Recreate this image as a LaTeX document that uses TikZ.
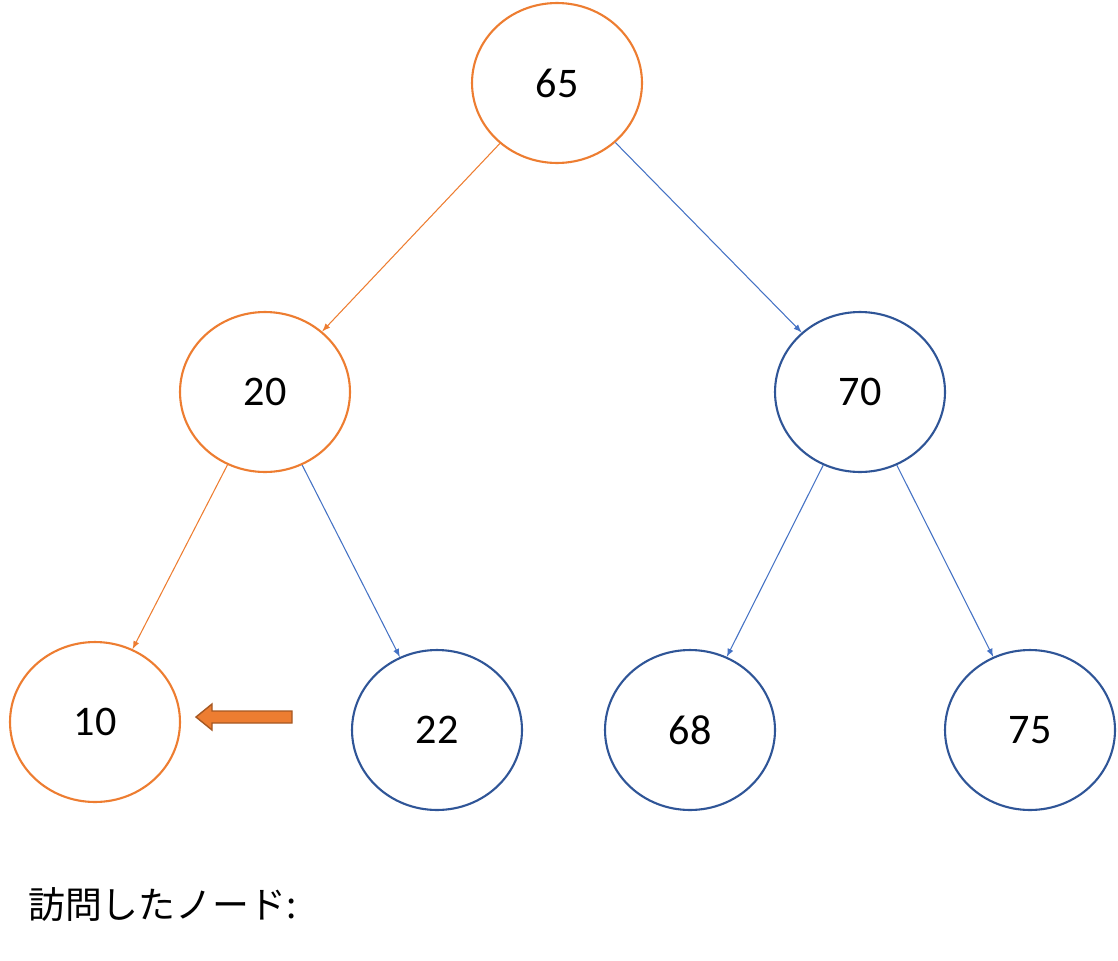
\documentclass[tikz,border=0pt]{standalone}
\usepackage{fontspec}
\setmainfont{Carlito}
\newfontfamily\cjk{Noto Sans CJK JP}
\usetikzlibrary{shapes.geometric}
\definecolor{myorange}{HTML}{ED7D31}
\definecolor{mynavy}{HTML}{2F5597}
\definecolor{myblue}{HTML}{4472C4}
\begin{document}
\begin{tikzpicture}[x=0.02cm, y=-0.02cm]
\tikzset{key/.style={shape=ellipse, draw=mynavy, line width=1.2, minimum width=3.4cm, minimum height=3.2cm, inner sep=0, font=\fontsize{24}{28}\selectfont}}
\tikzset{visited/.style={key, draw=myorange}}
\tikzset{link/.style={->, >=latex, myblue, line width=0.6}}
\tikzset{orangelink/.style={link, myorange}}
\useasboundingbox (0,0) rectangle (1118,960);
\node[visited] (k65) at (557,83) {65};
\node[visited] (k20) at (265,392) {20};
\node[key] (k70) at (860,392) {70};
\node[visited] (k10) at (95,722) {10};
\node[key] (k22) at (437,730) {22};
\node[key] (k68) at (690,730) {68};
\node[key] (k75) at (1030,730) {75};
\draw[orangelink] (k65) -- (k20);
\draw[link] (k65) -- (k70);
\draw[orangelink] (k20) -- (k10);
\draw[link] (k20) -- (k22);
\draw[link] (k70) -- (k68);
\draw[link] (k70) -- (k75);
% pointer
\draw[fill=myorange, draw=myorange!70!black, line width=0.8]
  (292,711) -- (212,711) -- (212,704) -- (196,717) -- (212,730) -- (212,723) -- (292,723) -- cycle;
\node[anchor=west, font=\cjk\fontsize{21}{26}\selectfont] (visit) at (22,905) {訪問したノード:};
\end{tikzpicture}
\end{document}
